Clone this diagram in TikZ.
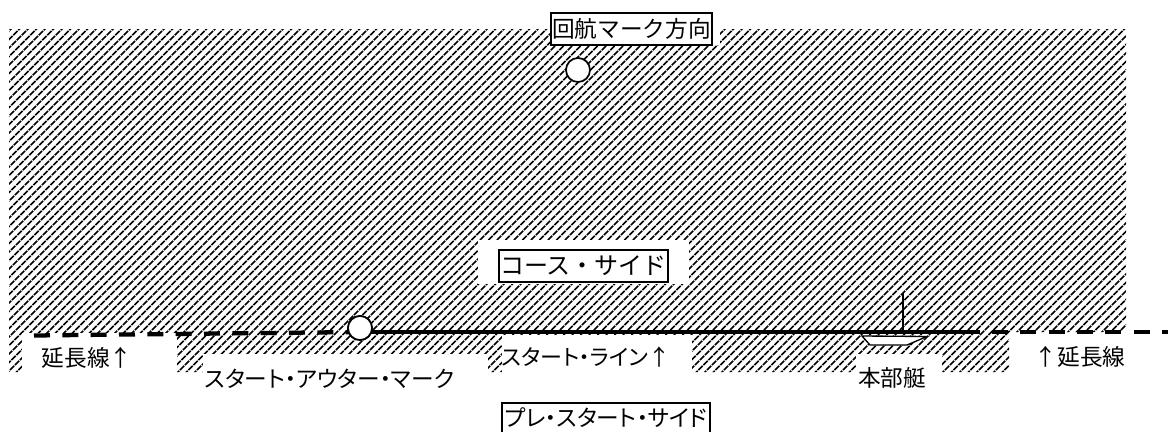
\documentclass[tikz,border=0pt]{standalone}
\usepackage{fontspec}
\setmainfont{Noto Sans CJK JP}
\newfontfamily\palt[RawFeature=+palt]{Noto Sans CJK JP}
\tikzset{
  boxed/.style={draw=black,line width=1.6pt,fill=white,inner sep=0pt,font=\fontsize{17}{17}\selectfont},
  lab/.style={inner sep=0pt,font=\palt\fontsize{17}{17}\selectfont},
  buoy/.style={circle,draw=black,line width=1.3pt,fill=white,minimum size=18pt,inner sep=0pt},
  extline/.style={line width=3.2pt,dash pattern=on 12pt off 9.25pt},
  startline/.style={line width=3.2pt},
  patch/.style={fill=white,draw=none},
  hatchline/.style={line width=1.3pt,black,dash pattern=on 4.5pt off 0.8pt}
}
\begin{document}
\begin{tikzpicture}[x=0.75pt,y=-0.75pt]
\useasboundingbox (0,0) rectangle (1168,432);
\fill[white] (0,0) rectangle (1168,432);
% hatched water
\begin{scope}
\clip (9,29) -- (1126,29) -- (1126,332) -- (1009,332) -- (1009,372) -- (9,372) -- cycle;
\foreach \i in {-50,...,140}{
  \draw[hatchline] ({\i*8.5},380) -- ({\i*8.5+360},20);
}
\end{scope}
\fill[patch] (551,29) rectangle (720,45);
\fill[patch] (478,240) rectangle (689,284);
\fill[patch] (22,333) rectangle (177,373);
\fill[patch] (203,354) rectangle (488,373);
\fill[patch] (502,335) rectangle (692,373);
\fill[patch] (856,354) rectangle (942,373);
% named line ends
\coordinate (extL) at (34,335.5);
\coordinate (extR) at (1168,332);
\coordinate (lineEnd) at (980,332);
\coordinate (extRs) at (992,332);
\coordinate (lineStart) at (360,332);
\node[buoy] (outer) at (360,328) {};
\draw[extline] (extL) -- (lineStart);
\draw[startline] (lineStart) -- (lineEnd);
\draw[extline] (extRs) -- (extR);
\node[buoy] at (outer) {};
\node[buoy] (top) at (578,70) {};
% committee boat
\draw[black,line width=1pt,fill=white] (862,336) -- (870,345) -- (907,345) -- (927,336.5) -- cycle;
\draw[black,line width=1.2pt] (903,293) -- (903,334);
% labels
\node[boxed,minimum width=120.5pt,minimum height=24pt] (mk) at (631.5,29) {回航マーク方向};
\node[boxed,minimum width=126.5pt,minimum height=24pt,font=\fontsize{18}{18}\selectfont] (cs) at (583.5,266) {コース・サイド};
\node[boxed,minimum width=156pt,minimum height=25pt,text height=12pt,text depth=3pt] (ps) at (606,420) {\palt プレ・スタート・サイド};
\node[lab] (e1) at (87,358) {延長線↑};
\node[lab] (e2) at (1080,357) {↑延長線};
\node[lab] (so) at (329.5,379) {スタート・アウター・マーク};
\node[lab,font=\palt\fontsize{16.5}{16.5}\selectfont] (sl) at (586,357) {スタート・ライン↑};
\node[lab] (hb) at (892,378) {本部艇};
\end{tikzpicture}
\end{document}
